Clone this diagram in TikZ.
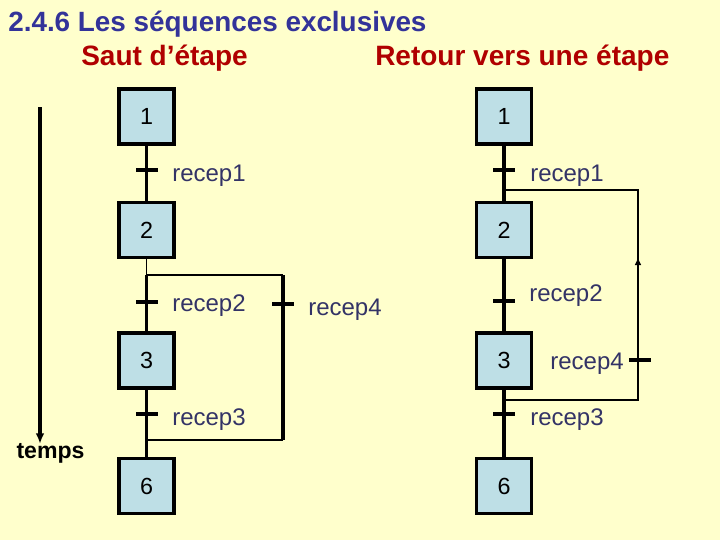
\documentclass[tikz,border=0pt]{standalone}
\usepackage{fontspec}
\setmainfont{Liberation Sans}
\usetikzlibrary{arrows.meta,calc}
\definecolor{bg}{HTML}{FFFFCC}
\definecolor{boxfill}{HTML}{BEDFE6}
\definecolor{titleblue}{HTML}{333399}
\definecolor{subred}{HTML}{B00000}
\definecolor{labblue}{HTML}{333366}
\begin{document}
\begin{tikzpicture}[x=0.75pt,y=-0.75pt,
  stepbox/.style={draw=black,line width=2.6pt,fill=boxfill,minimum width=41pt,minimum height=41pt,inner sep=0pt,font=\fontsize{17.5}{20}\selectfont},
  tbar/.style={fill=black,inner sep=0pt,minimum width=16.5pt,minimum height=2.4pt},
  lab/.style={text=labblue,font=\fontsize{18}{21}\selectfont,inner sep=0pt},
  thickl/.style={line width=2.8pt},
  thinl/.style={line width=0.8pt},
]
\path[use as bounding box,fill=bg] (0,0) rectangle (720,540);

% titles
\node[anchor=base west,inner sep=0pt,text=titleblue,font=\fontsize{20.9}{24}\selectfont\bfseries] (title) at (8,31) {2.4.6 Les séquences exclusives};
\node[anchor=base west,inner sep=0pt,text=subred,font=\fontsize{21}{24}\selectfont\bfseries] (sub1) at (81,65) {Saut d’étape};
\node[anchor=base west,inner sep=0pt,text=subred,font=\fontsize{21}{24}\selectfont\bfseries] (sub2) at (375,65) {Retour vers une étape};

% time arrow
\coordinate (Ta) at (40,107);
\coordinate (Tb) at (40,444);
\draw[line width=2.8pt,-{Latex[length=8pt,width=6.5pt]}] (Ta) -- (Tb);
\node[anchor=base,inner sep=0pt,font=\fontsize{17.3}{20}\selectfont\bfseries] (temps) at (50.5,458) {temps};

% ---------- left chart ----------
\node[stepbox] (L1) at (146.5,116.5) {1};
\node[stepbox] (L2) at (146.5,230) {2};
\node[stepbox] (L3) at (146.5,360.5) {3};
\node[stepbox] (L6) at (146.5,486) {6};
\coordinate (Ldiv) at (146.5,275);
\coordinate (Lalt) at (283,275);
\coordinate (Laltb) at (283,440);
\coordinate (Lconv) at (146.5,440);

\draw[thickl] (L1.south) -- (L2.north);
\draw[thinl] (L2.south) -- (Ldiv) -- (Lalt);
\draw[thickl] (Ldiv) -- (L3.north);
\draw[thickl] (Lalt) -- (Laltb);
\draw[thinl] (Laltb) -- (Lconv);
\draw[thickl] (L3.south) -- (L6.north);

\node[tbar] (tL1) at (146.5,170) {};
\node[tbar] (tL2) at (146.5,302) {};
\node[tbar] (tL3) at (146.5,414) {};
\node[tbar] (tL4) at (283,304) {};

\node[lab,anchor=base west] (lL1) at (172,181) {recep1};
\node[lab,anchor=base west] (lL2) at (172,311) {recep2};
\node[lab,anchor=base west] (lL3) at (172,425) {recep3};
\node[lab,anchor=base west] (lL4) at (308,315) {recep4};

% ---------- right chart ----------
\node[stepbox] (R1) at (504,116.5) {1};
\node[stepbox] (R2) at (504,230) {2};
\node[stepbox] (R3) at (504,360.5) {3};
\node[stepbox] (R6) at (504,486) {6};
\coordinate (Rtop) at (504,190);
\coordinate (Rtopr) at (638,190);
\coordinate (Rbot) at (504,400);
\coordinate (Rbotr) at (638,400);
\coordinate (Ra1) at (638,327);
\coordinate (Ra2) at (638,257);

\draw[thickl] (R1.south) -- (R2.north);
\draw[thickl] (R2.south) -- (R3.north);
\draw[thickl] (R3.south) -- (R6.north);
\draw[thinl] (Rbot) -- (Rbotr) -- (Rtopr) -- (Rtop);
\draw[line width=1.7pt,-{Latex[length=6pt,width=5pt]}] (Ra1) -- (Ra2);

\node[tbar] (tR1) at (504,170) {};
\node[tbar] (tR2) at (504,301) {};
\node[tbar] (tR3) at (504,414) {};
\node[tbar] (tR4) at (639.5,360) {};

\node[lab,anchor=base west] (lR1) at (530,181) {recep1};
\node[lab,anchor=base west] (lR2) at (529,301) {recep2};
\node[lab,anchor=base west] (lR3) at (530,425) {recep3};
\node[lab,anchor=base east] (lR4) at (624,369) {recep4};
\end{tikzpicture}
\end{document}
